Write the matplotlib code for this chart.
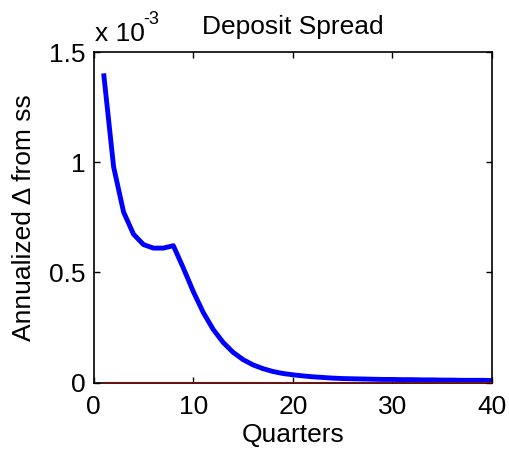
import matplotlib
matplotlib.use("Agg")
import matplotlib.pyplot as plt

quarters = list(range(1, 41))
deposit_spread = [1.403, 0.979, 0.774, 0.673, 0.626, 0.610, 0.610, 0.621, 0.520, 0.413,
                  0.318, 0.241, 0.182, 0.137, 0.104, 0.080, 0.063, 0.050, 0.041, 0.035,
                  0.030, 0.026, 0.023, 0.020, 0.018, 0.017, 0.016, 0.015, 0.014, 0.014,
                  0.013, 0.013, 0.012, 0.012, 0.011, 0.011, 0.010, 0.010, 0.010, 0.009]
deposit_spread = [v * 1e-3 for v in deposit_spread]
zero_line = [0.0] * 40
scale = 1e-3
xticks = [0, 10, 20, 30, 40]
yticks = [0, 0.5, 1, 1.5]
ytick_labels = ["0", "0.5", "1", "1.5"]

FS = 19
plt.rcParams['font.family'] = ['Liberation Sans', 'DejaVu Sans']
fig = plt.figure(figsize=(5.10, 4.53), dpi=100)
ax = fig.add_axes([0.1837, 0.1556, 0.7810, 0.7296])

ax.plot(quarters, [v / scale for v in deposit_spread], color='#0000ff', lw=3.5, solid_capstyle='butt', zorder=2)
ax.plot(quarters, [v / scale for v in zero_line], color='#a00000', lw=1.5, zorder=3)

ax.set_xlim(0, 40)
ax.set_ylim(0, 1.5)
ax.set_xticks(xticks)
ax.set_yticks(yticks)
ax.set_yticklabels(ytick_labels)
ax.tick_params(direction='in', top=True, right=True, length=4, width=1, labelsize=FS)
ax.tick_params(axis='x', pad=9)
ax.tick_params(axis='y', pad=6)
for s in ax.spines.values():
    s.set_linewidth(1.2)

ax.set_xlabel('Quarters', fontsize=FS, labelpad=3)
ax.set_ylabel('Annualized \u0394 from ss', fontsize=FS, labelpad=9)
ax.set_title('Deposit Spread', fontsize=FS, pad=13)

fig.text(95 / 510, 1 - 41 / 453, 'x 10', fontsize=FS, ha='left', va='baseline')
fig.text(143 / 510, 1 - 24 / 453, '-3', fontsize=13, ha='left', va='baseline')

fig.savefig('out.png', dpi=100)
